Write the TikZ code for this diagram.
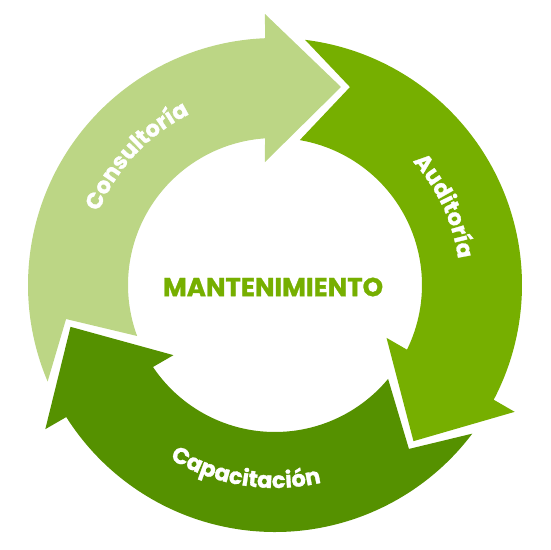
\documentclass[tikz,border=0pt]{standalone}
\usepackage{fontspec}
\setmainfont{Poppins}[BoldFeatures={FakeBold=1.2}]
\usetikzlibrary{decorations.text}
\definecolor{lightgreen}{HTML}{BCD685}
\definecolor{midgreen}{HTML}{76AF00}
\definecolor{darkgreen}{HTML}{559100}
\newcommand{\ringfont}{\fontsize{22.5}{22.5}\selectfont\bfseries\color{white}}
\tikzstyle{ringtext} = [decorate,decoration={text along path,text align=center}]
\tikzstyle{centertext} = [text=midgreen,font=\fontsize{26}{26}\selectfont\bfseries]

\begin{document}
\begin{tikzpicture}[x=1pt,y=1pt]
    \useasboundingbox (-275,-265) rectangle (275,285);

    \foreach \rot/\col in {0/lightgreen,-120/midgreen,120/darkgreen}
        \fill[\col,rotate=\rot] (203:247) arc[start angle=203,end angle=92.32,radius=247]
            -- (-10,271) -- (66,198) -- (-10,123) -- (93.9:147)
            arc[start angle=93.9,end angle=200.3,radius=147] -- (189.25:211.7) -- cycle;

    \path[ringtext,decoration={text={|\ringfont|Consultoría}}] (175:191) arc[start angle=175,end angle=99,radius=191];
    \path[ringtext,decoration={text={|\ringfont|Auditoría}}] (60:185) arc[start angle=60,end angle=-10,radius=185];
    \path[ringtext,decoration={text={|\ringfont|Capacitación}}] (224:203) arc[start angle=224,end angle=298,radius=203];

    \node[centertext] (M) at (-2,-2) {MANTENIMIENTO};
\end{tikzpicture}
\end{document}
